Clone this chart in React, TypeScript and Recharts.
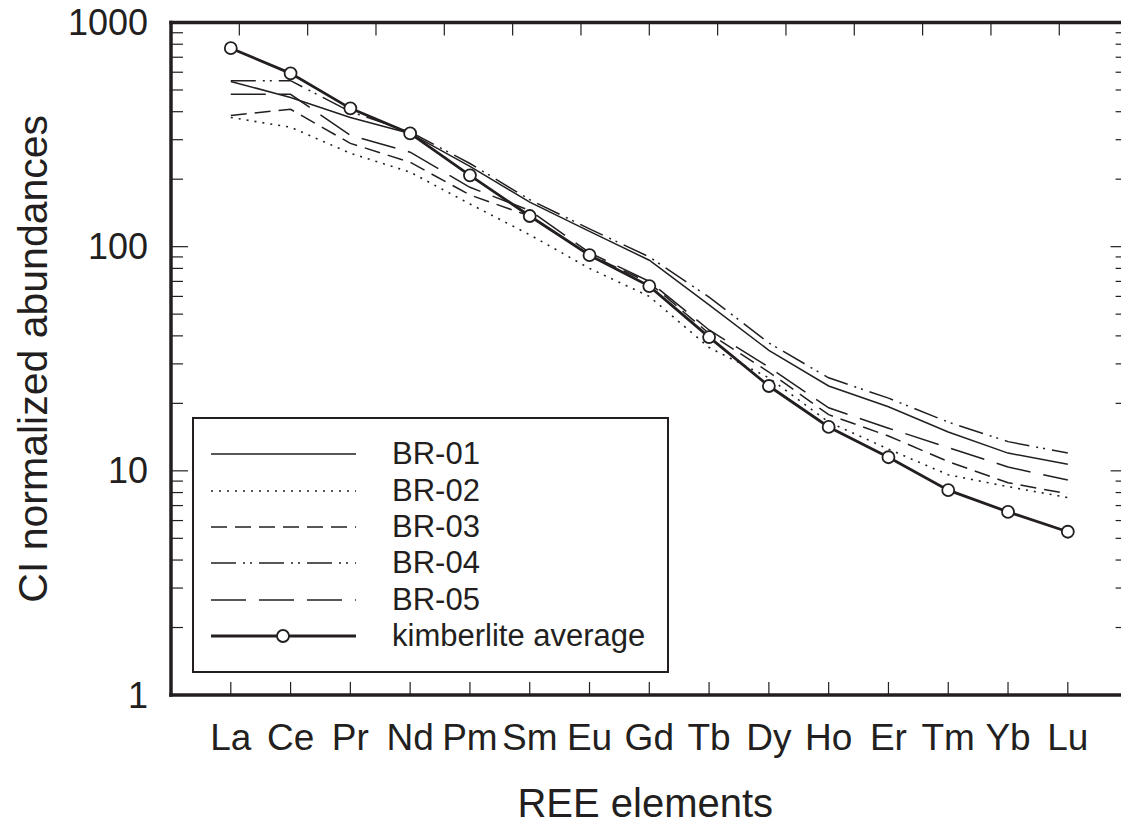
import React from 'react';
import { LineChart, Line, XAxis, YAxis, Legend, Label } from 'recharts';

// REE patterns, CI normalized
const ELEMENTS = ['La', 'Ce', 'Pr', 'Nd', 'Pm', 'Sm', 'Eu', 'Gd', 'Tb', 'Dy', 'Ho', 'Er', 'Tm', 'Yb', 'Lu'];
const BR01 = [546, 463, 377, 320, 228, 158, 117, 87, 55, 34.5, 23.9, 19.3, 14.9, 12.0, 10.7];
const BR02 = [377, 341, 261, 215, 155, 113, 80, 60, 35.5, 26, 16.5, 12.5, 9.6, 8.5, 7.6];
const BR03 = [385, 410, 289, 238, 170, 137, 92, 69, 41, 27.6, 17.8, 14.3, 11.0, 8.85, 7.9];
const BR04 = [550, 550, 400, 325, 235, 162, 120, 90, 59.5, 37.2, 26, 21.1, 16.5, 13.5, 12.0];
const BR05 = [478, 478, 314, 264, 184, 145, 94, 70, 42.5, 29, 19.1, 15.5, 12.7, 10.4, 9.1];
const KIMBERLITE = [768, 593, 414, 320, 208, 137, 91.6, 66.7, 39.5, 23.9, 15.7, 11.5, 8.2, 6.56, 5.35];

const MAJOR_TICKS = [1, 10, 100, 1000];
const MINOR_STEPS = [2, 3, 4, 5, 6, 7, 8, 9];
const Y_TICKS = MAJOR_TICKS.flatMap((d) => (d === 1000 ? [d] : [d, ...MINOR_STEPS.map((s) => s * d)]));
const X_TICKS = ELEMENTS.map((_, i) => i);

const INK = '#231f20';
const FONT = '"Liberation Sans", Arial, Helvetica, sans-serif';
const Y_GAP = 23;
const X_GAP = 43;

const data = ELEMENTS.map((el, i) => ({
    idx: i,
    el,
    br01: BR01[i],
    br02: BR02[i],
    br03: BR03[i],
    br04: BR04[i],
    br05: BR05[i],
    kimb: KIMBERLITE[i],
}));

const SERIES = [
    { key: 'br01', name: 'BR-01', dash: undefined, width: 1.5 },
    { key: 'br02', name: 'BR-02', dash: '2 6', width: 1.6 },
    { key: 'br03', name: 'BR-03', dash: '16 8', width: 1.5 },
    { key: 'br04', name: 'BR-04', dash: '25 7 2 5 2 7', width: 1.5 },
    { key: 'br05', name: 'BR-05', dash: '35 13', width: 1.5 },
];

const isMajor = (v: number) => MAJOR_TICKS.includes(v);

const LeftTick = ({ x, y, payload }: any) => {
    const axisX = x + Y_GAP;
    const major = isMajor(payload.value);
    return (
        <g>
            <line x1={axisX} x2={axisX + (major ? 17 : 12)} y1={y} y2={y} stroke={INK} strokeWidth={1.2} />
            {major && (
                <text x={x} y={y} textAnchor="end" dominantBaseline="central" fontSize={36} fontFamily={FONT} fill={INK}>
                    {payload.value}
                </text>
            )}
        </g>
    );
};

const RightTick = ({ x, y, payload }: any) => (
    <line x1={x} x2={x - (isMajor(payload.value) ? 17 : 12)} y1={y} y2={y} stroke={INK} strokeWidth={1.2} />
);

const BottomTick = ({ x, y, payload }: any) => {
    const axisY = y - X_GAP;
    return (
        <g>
            <line x1={x} x2={x} y1={axisY} y2={axisY - 13} stroke={INK} strokeWidth={1.2} />
            <text x={x} y={y - 1} textAnchor="middle" dominantBaseline="central" fontSize={37} fontFamily={FONT} fill={INK}>
                {ELEMENTS[payload.value]}
            </text>
        </g>
    );
};

const TopTick = ({ x, y }: any) => (
    <line x1={x} x2={x} y1={y} y2={y + 13} stroke={INK} strokeWidth={1.2} />
);

const LegendBox = () => {
    const rows = [...SERIES.map((s) => ({ ...s, marker: false })), { key: 'kimb', name: 'kimberlite average', dash: undefined, width: 2.8, marker: true }];
    return (
        <div
            style={{
                boxSizing: 'border-box',
                width: 477,
                height: 256,
                border: `2px solid ${INK}`,
                background: '#fff',
                paddingTop: 17,
                fontFamily: FONT,
                color: INK,
            }}
        >
            {rows.map((r) => (
                <div key={r.key} style={{ display: 'flex', alignItems: 'center', height: 36.4 }}>
                    <svg width={145} height={16} style={{ marginLeft: 17, flex: 'none' }}>
                        <line x1={0} x2={145} y1={8} y2={8} stroke={INK} strokeWidth={r.width} strokeDasharray={r.dash} />
                        {r.marker && <circle cx={72} cy={8} r={6} fill="#fff" stroke={INK} strokeWidth={1.8} />}
                    </svg>
                    <span style={{ marginLeft: 36, fontSize: 31, lineHeight: '36px' }}>{r.name}</span>
                </div>
            ))}
        </div>
    );
};

const YTitle = ({ viewBox }: any) => {
    const cx = 33;
    const cy = viewBox.y + viewBox.height / 2;
    return (
        <text x={cx} y={cy} transform={`rotate(-90 ${cx} ${cy})`} textAnchor="middle" dominantBaseline="central" fontSize={41} fontFamily={FONT} fill={INK}>
            CI normalized abundances
        </text>
    );
};

const XTitle = ({ viewBox }: any) => {
    const cx = viewBox.x + viewBox.width / 2 - 4;
    return (
        <text x={cx} y={803} textAnchor="middle" dominantBaseline="central" fontSize={40} fontFamily={FONT} fill={INK}>
            REE elements
        </text>
    );
};

const axisLine = { stroke: INK, strokeWidth: 3.5, strokeLinecap: 'square' as const };

export default function App() {
    return (
        <div style={{ position: 'absolute', left: 0, top: 0, width: 1121, height: 827, overflow: 'hidden', background: '#fff' }}>
            <LineChart width={1140} height={827} data={data} margin={{ top: 0, right: 0, bottom: 0, left: 0 }}>
                <XAxis
                    xAxisId="bottom"
                    dataKey="idx"
                    type="number"
                    domain={[-1, 15]}
                    allowDataOverflow
                    ticks={X_TICKS}
                    interval={0}
                    height={132}
                    tickSize={0}
                    tickMargin={X_GAP}
                    axisLine={axisLine}
                    tick={<BottomTick />}
                >
                    <Label content={<XTitle />} />
                </XAxis>
                <XAxis
                    xAxisId="top"
                    orientation="top"
                    type="number"
                    domain={[-1, 15]}
                    allowDataOverflow
                    ticks={X_TICKS}
                    interval={0}
                    height={22.5}
                    tickSize={0}
                    tickMargin={0}
                    axisLine={axisLine}
                    tick={<TopTick />}
                />
                <YAxis
                    yAxisId="left"
                    type="number"
                    scale="log"
                    domain={[1, 1000]}
                    allowDataOverflow
                    ticks={Y_TICKS}
                    interval={0}
                    width={171}
                    tickSize={0}
                    tickMargin={Y_GAP}
                    axisLine={axisLine}
                    tick={<LeftTick />}
                >
                    <Label content={<YTitle />} />
                </YAxis>
                <YAxis
                    yAxisId="right"
                    orientation="right"
                    type="number"
                    scale="log"
                    domain={[1, 1000]}
                    allowDataOverflow
                    ticks={Y_TICKS}
                    interval={0}
                    width={12.4}
                    tickSize={0}
                    tickMargin={0}
                    axisLine={axisLine}
                    tick={<RightTick />}
                />
                <Legend
                    content={<LegendBox />}
                    layout="horizontal"
                    verticalAlign="middle"
                    align="center"
                    wrapperStyle={{ left: 192, top: 417, width: 477, height: 256 }}
                />
                {SERIES.map((s) => (
                    <Line
                        key={s.key}
                        xAxisId="bottom"
                        yAxisId="left"
                        dataKey={s.key}
                        name={s.name}
                        type="linear"
                        stroke={INK}
                        strokeWidth={s.width}
                        strokeDasharray={s.dash}
                        dot={false}
                        activeDot={false}
                        isAnimationActive={false}
                    />
                ))}
                <Line
                    xAxisId="bottom"
                    yAxisId="left"
                    dataKey="kimb"
                    name="kimberlite average"
                    type="linear"
                    stroke={INK}
                    strokeWidth={2.8}
                    dot={{ r: 6, fill: '#fff', stroke: INK, strokeWidth: 1.8 }}
                    activeDot={false}
                    isAnimationActive={false}
                />
            </LineChart>
        </div>
    );
}
